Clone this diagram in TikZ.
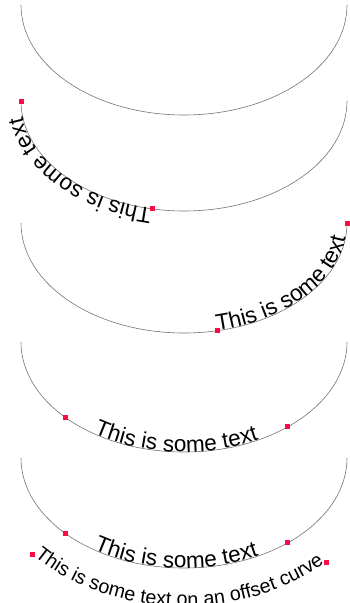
\documentclass[tikz,border=0pt]{standalone}
\usepackage{fontspec}
\setmainfont{Liberation Sans}
\usetikzlibrary{decorations.text}
\definecolor{sqred}{RGB}{250,10,70}
\newcommand{\arctext}{\fontsize{22.5}{27}\selectfont}
\newcommand{\offtext}{\fontsize{19.7}{23}\selectfont}

\begin{document}
\begin{tikzpicture}[x=1pt,y=1pt,curve/.style={draw=black!55,line width=0.6pt},
redsq/.style={fill=sqred,minimum size=5pt,inner sep=0pt},ell/.style={x radius=163,y radius=110}]
\useasboundingbox (0,0) rectangle (349,-603);
\coordinate (c1) at (184,-5); \coordinate (c2) at (184,-101); \coordinate (c3) at (184,-223);
\coordinate (c4) at (184,-342); \coordinate (c5) at (184,-458);
\foreach \c in {c1,c2,c3,c4,c5} \draw[curve] (\c) ++(180:163 and 110) arc[start angle=180,end angle=360,ell];
\path[decorate,decoration={text along path,text align=left,text={|\arctext|This is some text}}]
(c2) ++(258.7:163 and 110) arc[start angle=258.7,end angle=180,ell];
\path (c2) ++(258.7:163 and 110) node[redsq] (s2a) {}; \path (c2) ++(180:163 and 110) node[redsq] (s2b) {};
\path[decorate,decoration={text along path,text align=left,text={|\arctext|This is some text}}]
(c3) ++(281.7:163 and 110) arc[start angle=281.7,end angle=360,ell];
\path (c3) ++(281.7:163 and 110) node[redsq] (s3a) {}; \path (c3) ++(360:163 and 110) node[redsq] (s3b) {};
\path[decorate,decoration={text along path,text align=center,text={|\arctext|This is some text}}]
(c4) ++(223.6:163 and 110) arc[start angle=223.6,end angle=309.6,ell];
\path (c4) ++(223.6:163 and 110) node[redsq] (s4a) {}; \path (c4) ++(309.6:163 and 110) node[redsq] (s4b) {};
\path[decorate,decoration={text along path,text align=center,text={|\arctext|This is some text}}]
(c5) ++(223.6:163 and 110) arc[start angle=223.6,end angle=309.6,ell];
\path (c5) ++(223.6:163 and 110) node[redsq] (s5a) {}; \path (c5) ++(309.6:163 and 110) node[redsq] (s5b) {};
\path[decorate,decoration={text along path,text align=center,text={|\offtext|This is some text on an offset curve}}]
(c5) ++(220.9:200 and 148) arc[start angle=220.9,end angle=315.3,x radius=200,y radius=148];
\path (c5) ++(220.9:200 and 148) node[redsq] (o5a) {}; \path (c5) ++(315.3:200 and 148) node[redsq] (o5b) {};
\end{tikzpicture}
\end{document}
